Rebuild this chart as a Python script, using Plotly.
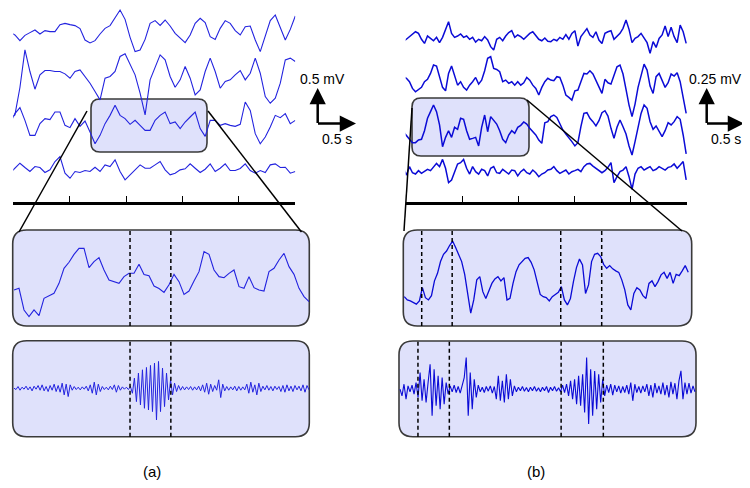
import numpy as np
import plotly.graph_objects as go

# the page body has an 8 px margin; the figure is sized/offset so it fills the 750x488 window
PAGE_MARGIN = 8
W, H = 750 - PAGE_MARGIN, 488 - PAGE_MARGIN

# ---------------- data ----------------
# (a) top: four EEG channels, deflection in µV, uniformly sampled over 0-5 s
A_CH1 = [-5, -42, -121, -47, -9, 28, -28, 19, 5, 5, 103, 121, 103, 89, 47, -112, -154, -121, -28, 51,
         89, 191, 308, 177, -75, -275, -252, -103, 121, 159, 93, 168, 84, -19, -89, -149, -42, 121, 191, 131,
         -65, -103, 51, 159, 121, 19, -42, 75, 84, -112, -275, -65, 159, 238, 75, -112, 37, 224]
A_CH2 = [-607, -560, -177, 350, 47, -201, 0, 61, 61, 47, 47, 14, -47, 47, 70, -23, -117, -234, -350, -47,
         -23, 47, 257, 294, 140, 0, -257, -560, -70, 117, 280, 210, -23, -173, -70, 117, -47, -280, -210, 47,
         234, 47, -187, -93, -70, 0, 61, -70, 23, 234, 23, -304, -397, -327, -117, 210, 234, 187]
A_CH3 = [-23, 117, 201, 23, -187, -187, -23, 47, 33, 140, 140, -47, -79, 47, -61, 14, -140, -304, -187, -23,
         93, 234, 93, 47, -33, 23, -47, -117, -117, 23, 93, 140, -23, 0, -93, 0, 70, 140, -93, -201,
         23, 23, -47, -23, -47, -61, -33, 280, 163, -163, -304, -210, -70, 93, 61, 117, -23, 23]
A_CH4 = [-47, 23, 93, 33, -23, 47, 33, -37, 0, 117, 187, -47, -117, -23, -37, -9, -23, 37, -23, 70,
         47, 140, -23, -140, -70, 0, 70, 23, 23, 70, 117, 0, -70, -47, 0, 14, 84, 23, -37, 9,
         84, -23, 23, 84, -9, -9, 19, 84, -9, -47, -9, -37, 70, 84, 33, 37, -47, -23]

# (b) top: four EEG channels, µV
B_CH1 = [-11, 5, 18, 34, 56, 45, 5, -23, 27, 11, -5, 18, -18, 18, 68, 124, 45, 18, 27, 41,
         18, 27, 5, 18, -14, 5, -5, 23, 0, -45, -68, 5, 18, -5, 27, 50, 63, 18, 34, 23,
         5, 27, 45, 56, 34, 5, -5, 14, -9, -11, 5, -5, 18, 5, 36, 5, 45, 63, -41, 23,
         50, 77, 34, 18, 56, 0, -23, 45, 56, 63, 5, 27, 45, 79, 135, 72, -18, 11, 23, 45,
         11, -18, -90, -11, -50, 11, 34, 95, 23, 86, 23, -18, 101, 56, -23]
B_CH2 = [34, 23, 0, -45, -68, -52, -38, 0, 16, 56, 113, 106, 34, -38, -61, 56, 106, 45, -23, 0,
         -38, -56, -23, 0, 29, -16, 11, 74, 158, 169, 90, 83, 68, 0, 11, -11, 0, -23, 0, -23,
         -7, 29, 11, -23, -45, -90, -38, 0, 23, 11, 7, 34, 29, -23, -90, -106, -124, -61, -56, 0,
         56, 52, 74, 52, 11, -38, -79, 16, -7, -16, 38, 101, 113, 52, -52, -158, -236, -151, -38, 38,
         119, 79, -29, -79, 34, 56, 11, -38, -7, 52, 38, 61, 0, -101, -214]
B_CH3 = [-23, -45, -74, -97, -97, -79, -74, -16, 68, 113, 158, 113, 23, -124, -61, -16, -61, 7, -7, 68,
         61, -16, -74, -68, -61, -119, 7, 90, -23, 79, 56, 29, -16, -74, -97, -45, -16, -34, 7, 20,
         43, 29, 0, -23, -45, -79, -101, 38, 45, 79, 90, 74, 29, -11, -38, -68, -90, -119, -97, 11,
         101, 106, 68, 45, 16, 52, 106, 119, 83, 0, -68, 7, 56, 11, -38, -119, -180, -90, 16, 101,
         158, 135, 45, -7, 16, -16, -56, -16, 38, 23, 45, 79, 61, -45, -173]
B_CH4 = [23, -23, 34, -7, -16, 7, -11, 0, 16, 7, 34, 56, 34, 83, 23, -74, -56, 0, 52, 61,
         83, 23, -16, 34, 0, -16, 16, 7, -29, 23, 34, -7, -11, 16, 0, -16, 11, 7, -29, 0,
         16, -7, -16, 11, -7, -34, -16, -7, 11, 16, 34, 7, -11, 0, 11, -16, 0, 7, 16, 0,
         34, 52, 56, 38, 23, 11, -7, 7, 29, 61, -74, -34, 0, 11, 34, -34, -119, -16, 23, 34,
         11, 23, 34, 7, 16, 34, 23, 11, 29, 34, 52, 23, 45, 68, -56]

# zoomed segments: raw (box 1) and band-filtered (box 2)
A_RAW = [-91, -78, -247, -299, -247, -291, -156, -135, -117, -39, 78, 125, 187, 234, 234, 83, 130, 161, 65, -13,
         -26, -39, 13, 39, 40, 110, 30, 20, -60, -80, -110, -50, 31, -26, -125, -99, -21, 52, 208, 187,
         65, 13, 5, 39, 65, -65, -78, 13, -73, -91, -99, 52, 78, 143, 195, 91, 31, -78, -143, -182]
A_FILT = [0, -4, 5, -6, 3, -3, 6, -5, 4, -8, 6, -3, 8, -6, 10, -8, 5, -10, 8, -6, 12, -10, 8, -12,
          15, -20, 12, -25, 10, -6, 5, -4, 3, -5, 4, -3, 6, -8, 10, -15, 18, -20, 12, -10, 5, -4, 3, -5,
          6, -4, 10, -12, 8, -6, 4, -3, 3, -4, 5,
          -15, 30, -40, 45, -50, 55, -60, 62, -65, 68, -70, 75, -95, 80, -70, 60, -55, 45, -35, 25, -20,
          15, -10, 8, -6, 5, -5, 4, -4, 5, -6, 4, -5, 6, -8, 10, -12, 15, -18, 12, -10, 8, -6, 25, -28,
          12, -8, 5, -6, 4, -5, 6, -8, 5, -6, 4, -5, 12, -15, 18, -12, 10, -20, 15, -10, 6, -5, 8, -6,
          5, -8, 6, -4, 5, -10, 8, -12, 10, -8, 6, -10, 8, -5, 6, -8, 10, -12, 8, -5]
B_RAW = [-60, -73, -77, -82, -90, -77, -24, -64, -73, -56, 3, 33, 80, 109, 122, 144, 162, 136, 109, 80,
         29, -40, -126, -73, 7, 20, -40, -67, -37, -7, 11, 20, 3, 16, -73, -67, -7, 40, 67, 82,
         93, 96, 77, 47, 0, -51, -60, -64, -77, -60, -51, -43, -20, -73, -93, -67, 0, 56, 90, 67,
         -47, -13, 80, 109, 113, 100, 69, 53, 64, 51, 43, 37, 7, -33, -93, -113, -47, -24, -33, -56,
         -67, -7, 3, -20, 0, 27, 37, 13, 37, -7, 29, 24, 43, 64, 37]
B_FILT = [0, -20, 15, -30, 10, -8, 12, -15, 20, -25, 50, -35, 30, -40, 20, 75, -80, 60, -50, 40,
          -60, 35, -45, 20, -15, 10, -8, 12, -10, 8, -12, 15, 35, 95, -80, 50, -60, 30, -25, 12,
          -8, 6, -10, 8, -6, 10, -12, 8, -30, 40, -35, 25, -40, 45, -30, 30, -20, 10, -8, 6,
          -5, 8, -6, 5, -8, 6, -5, 8, -6, 4, -8, 6, -5, 8, -10, 6, -5, 8, -6, 4,
          -8, 12, -10, 15, -20, 25, -30, 30, -45, 40, -50, 45, -70, 95, -105, 60, -80, 55, -60, 45,
          -40, 30, -20, 12, -10, 15, -18, 12, -8, 10, -12, 8, -10, 12, -15, 20, -35, 15, -10, 8,
          -12, 10, -8, 15, -20, 12, -25, 18, -12, 10, -15, 20, -18, 12, -25, 22, -15, 18, -30, 25,
          55, -30, 20, -15, 18, -12, 10, -8]

EVENTS_A = [2.20, 2.48]               # s, dashed markers in (a)
EVENTS_B = [0.24, 0.46, 1.244, 1.54]  # s, dashed markers in (b)

SCALE_A = ("0.5 mV", "0.5 s")
SCALE_B = ("0.25 mV", "0.5 s")
PANEL_LABELS = ["(a)", "(b)"]

# ---------------- layout helpers (window pixel -> paper) ----------------
def X(v):
    return (v - PAGE_MARGIN) / W

def Y(v):
    return 1 - (v - PAGE_MARGIN) / H

def rrect(x0, y0, x1, y1, r):
    return (f"M{X(x0+r)},{Y(y0)} L{X(x1-r)},{Y(y0)} Q{X(x1)},{Y(y0)} {X(x1)},{Y(y0+r)} "
            f"L{X(x1)},{Y(y1-r)} Q{X(x1)},{Y(y1)} {X(x1-r)},{Y(y1)} L{X(x0+r)},{Y(y1)} "
            f"Q{X(x0)},{Y(y1)} {X(x0)},{Y(y1-r)} L{X(x0)},{Y(y0+r)} Q{X(x0)},{Y(y0)} {X(x0+r)},{Y(y0)} Z")

TRACE_BLUE = "#2323df"
DENSE_BLUE = "#0b0bd6"
BOX_FILL = "rgb(223,225,251)"
BOX_LINE = "#3a3a3a"

fig = go.Figure()

def add_line(t, v, off, ax, color, width):
    fig.add_trace(go.Scatter(x=t, y=np.asarray(v, float) + off, mode="lines",
                             line=dict(color=color, width=width),
                             xaxis="x" + ax, yaxis="y" + ax,
                             hoverinfo="skip", showlegend=False))

# top (a): 14 µV per window px; top (b): 6.76 µV per window px
A_OFF = [2380, 1780, 1120, 450]
for vals, off in zip([A_CH1, A_CH2, A_CH3, A_CH4], A_OFF):
    add_line(np.linspace(-0.06, 5, len(vals)), vals, off, "", TRACE_BLUE, 1.1)
B_OFF = [1095, 813, 498, 205]
for vals, off in zip([B_CH1, B_CH2, B_CH3, B_CH4], B_OFF):
    add_line(np.linspace(-0.04, 4.98, len(vals)), vals, off, "2", DENSE_BLUE, 1.5)
# zoom boxes
add_line(np.linspace(1.404, 3.428, len(A_RAW)), A_RAW, 0, "3", TRACE_BLUE, 1.1)
add_line(np.linspace(1.404, 3.428, len(A_FILT)), A_FILT, 0, "4", TRACE_BLUE, 1.0)
add_line(np.linspace(0.114, 2.165, len(B_RAW)), B_RAW, 0, "5", DENSE_BLUE, 1.3)
add_line(np.linspace(0.114, 2.183, len(B_FILT)), B_FILT, 0, "6", DENSE_BLUE, 1.1)

def xdom(a, b):
    return [X(a), X(b)]

def ydom(top, bottom):
    return [Y(bottom), Y(top)]

hidden = dict(visible=False, fixedrange=True)
time_axis = dict(showline=True, linecolor="black", linewidth=3, ticks="inside", ticklen=6,
                 tickwidth=1.3, tickcolor="black", tick0=0, dtick=1, showticklabels=False,
                 showgrid=False, zeroline=False, range=[0, 5], fixedrange=True)

TOP, AXIS_Y = 8, 202
BOXES = {  # window px geometry: x0, y0, x1, y1
    "3": (12.7, 230, 309.3, 326),
    "4": (12.7, 340.7, 309.3, 436.7),
    "5": (403.3, 230, 691.7, 326),
    "6": (399, 341, 696, 436.7),
}
fig.update_layout(
    width=W, height=H, margin=dict(l=0, r=0, t=0, b=0),
    paper_bgcolor="white", plot_bgcolor="rgba(0,0,0,0)",
    xaxis=dict(domain=xdom(13.3, 295.3), anchor="y", **time_axis),
    yaxis=dict(domain=ydom(TOP, AXIS_Y), range=[0, (AXIS_Y - TOP) * 14.0], anchor="x", **hidden),
    xaxis2=dict(domain=xdom(405.7, 687.3), anchor="y2", **time_axis),
    yaxis2=dict(domain=ydom(TOP, AXIS_Y), range=[0, (AXIS_Y - TOP) * 6.76], anchor="x2", **hidden),
    xaxis3=dict(domain=xdom(*BOXES["3"][0::2]), range=[1.395, 3.43], anchor="y3", **hidden),
    yaxis3=dict(domain=ydom(BOXES["3"][1], BOXES["3"][3]), range=[-372, 377], anchor="x3", **hidden),
    xaxis4=dict(domain=xdom(*BOXES["4"][0::2]), range=[1.395, 3.43], anchor="y4", **hidden),
    yaxis4=dict(domain=ydom(BOXES["4"][1], BOXES["4"][3]), range=[-145, 142], anchor="x4", **hidden),
    xaxis5=dict(domain=xdom(*BOXES["5"][0::2]), range=[0.107, 2.19], anchor="y5", **hidden),
    yaxis5=dict(domain=ydom(BOXES["5"][1], BOXES["5"][3]), range=[-177, 206], anchor="x5", **hidden),
    xaxis6=dict(domain=xdom(*BOXES["6"][0::2]), range=[0.107, 2.19], anchor="y6", **hidden),
    yaxis6=dict(domain=ydom(BOXES["6"][1], BOXES["6"][3]), range=[-143, 145], anchor="x6", **hidden),
    font=dict(family="Liberation Sans, Arial, sans-serif", color="black"),
)

shapes = []
for k, (x0, y0, x1, y1) in BOXES.items():
    shapes.append(dict(type="path", path=rrect(x0, y0, x1, y1, 14), xref="paper", yref="paper",
                       fillcolor=BOX_FILL, line=dict(color=BOX_LINE, width=1.6), layer="below"))
for (x0, y0, x1, y1) in [(91, 99, 207, 152), (412, 98, 529, 156)]:
    shapes.append(dict(type="path", path=rrect(x0, y0, x1, y1, 9), xref="paper", yref="paper",
                       fillcolor=BOX_FILL, line=dict(color=BOX_LINE, width=1.6), layer="below"))
for (x0, y0, x1, y1) in [(87, 111, 19, 232), (208, 111, 301.5, 232),
                         (412, 108, 404, 231), (527, 100, 682, 231)]:
    shapes.append(dict(type="line", x0=X(x0), y0=Y(y0), x1=X(x1), y1=Y(y1), xref="paper", yref="paper",
                       line=dict(color="black", width=1.5), layer="above"))
for ax, evs in [("3", EVENTS_A), ("4", EVENTS_A), ("5", EVENTS_B), ("6", EVENTS_B)]:
    for e in evs:
        shapes.append(dict(type="line", x0=e, x1=e, y0=0, y1=1, xref="x" + ax, yref="y" + ax + " domain",
                           line=dict(color="black", width=1.5, dash="4px,3px"), layer="above"))
fig.update_layout(shapes=shapes)

ann = []
def arrow(tipx, tipy, ax, ay):
    ann.append(dict(x=X(tipx), y=Y(tipy), xref="paper", yref="paper", ax=ax, ay=ay, text="",
                    showarrow=True, arrowhead=2, arrowsize=1.3, arrowwidth=2.5, arrowcolor="black"))

def label(txt, cx, cy, size=13):
    ann.append(dict(x=X(cx), y=Y(cy), xref="paper", yref="paper", text=txt, showarrow=False,
                    xanchor="center", yanchor="middle", font=dict(size=size, color="black")))

arrow(317.7, 88, 0, 36.5)
arrow(356, 123.5, -39.5, 0)
arrow(706.7, 88, 0, 36.5)
arrow(744, 123.5, -38.5, 0)
label(SCALE_A[0], 322, 79, 14)
label(SCALE_A[1], 337, 139, 14)
label(SCALE_B[0], 715, 79, 14)
label(SCALE_B[1], 726, 139, 14)
label(PANEL_LABELS[0], 152, 471, 15)
label(PANEL_LABELS[1], 536, 471, 15)
fig.update_layout(annotations=ann)

fig.write_html("out.html")
